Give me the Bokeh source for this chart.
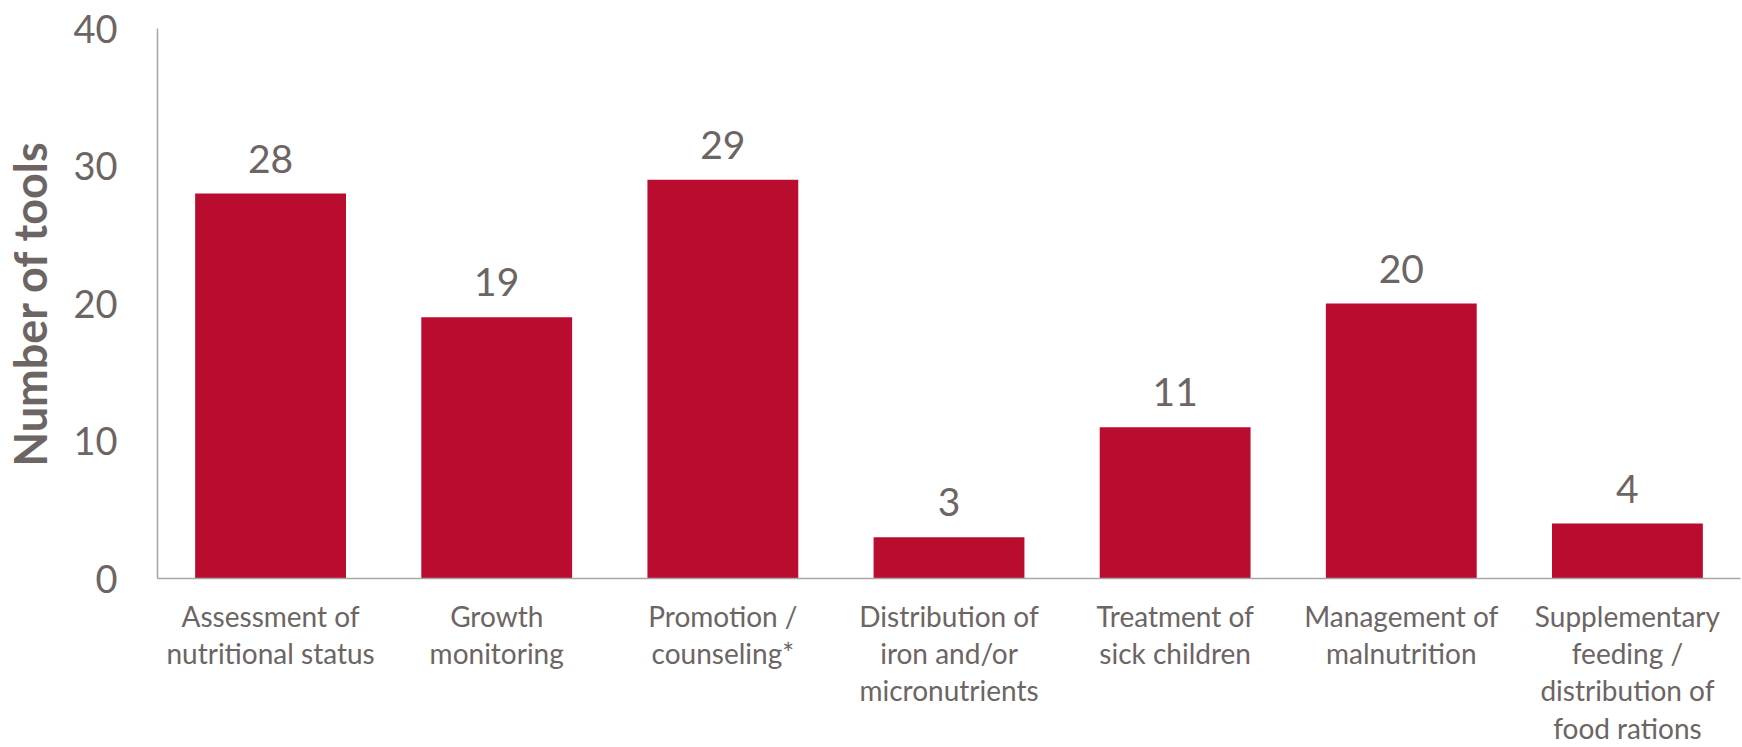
from bokeh.plotting import figure
from bokeh.models import ColumnDataSource, FactorRange, Range1d, LabelSet
from bokeh.core.properties import value
from bokeh.embed import file_html
from bokeh.resources import INLINE

# Nutrition-related tool counts by service area
categories = [
    "Assessment of\nnutritional status",
    "Growth\nmonitoring",
    "Promotion /\ncounseling*",
    "Distribution of\niron and/or\nmicronutrients",
    "Treatment of\nsick children",
    "Management of\nmalnutrition",
    "Supplementary\nfeeding /\ndistribution of\nfood rations",
]
counts = [28, 19, 29, 3, 11, 20, 4]
y_ticks = [0, 10, 20, 30, 40]

BAR = "#BA0C2F"
TEXT = "#6D6464"
AXIS = "#A6A6A6"
FONT = "Lato"

source = ColumnDataSource(dict(cat=categories, n=counts, lbl=[str(v) for v in counts]))

p = figure(
    x_range=FactorRange(*categories, range_padding=0),
    y_range=Range1d(0, 40),
    width=1742, height=747,
    output_backend="svg", toolbar_location=None,
    min_border_left=154, min_border_right=2, min_border_top=28, min_border_bottom=166,
)
p.outline_line_color = None
p.xgrid.grid_line_color = None
p.ygrid.grid_line_color = None

p.vbar(x="cat", top="n", width=0.667, source=source, color=BAR, line_color=None)

labels = LabelSet(x="cat", y="n", text="lbl", source=source, y_offset=21,
                  text_align="center", text_baseline="alphabetic",
                  text_font=value(FONT), text_font_size=value("39px"),
                  text_color=value(TEXT))
p.add_layout(labels)

p.yaxis.ticker = y_ticks
p.yaxis.axis_label = "Number of tools"
p.yaxis.axis_label_text_font = FONT
p.yaxis.axis_label_text_font_style = "bold"
p.yaxis.axis_label_text_font_size = "45px"
p.yaxis.axis_label_text_color = TEXT
p.yaxis.axis_label_standoff = 13
p.yaxis.major_label_text_font = FONT
p.yaxis.major_label_text_font_size = "38px"
p.yaxis.major_label_text_color = TEXT
p.yaxis.major_label_standoff = 40

p.xaxis.major_label_text_font = FONT
p.xaxis.major_label_text_font_size = "28px"
p.xaxis.major_label_text_color = TEXT
p.xaxis.major_label_text_line_height = 1.1
p.xaxis.major_label_standoff = 20

for ax in (p.xaxis, p.yaxis):
    ax.axis_line_color = AXIS
    ax.axis_line_width = 1.5
    ax.major_tick_line_color = None
    ax.minor_tick_line_color = None
    ax.major_tick_out = 0
    ax.major_tick_in = 0

open("out.html", "w").write(file_html(p, INLINE))
